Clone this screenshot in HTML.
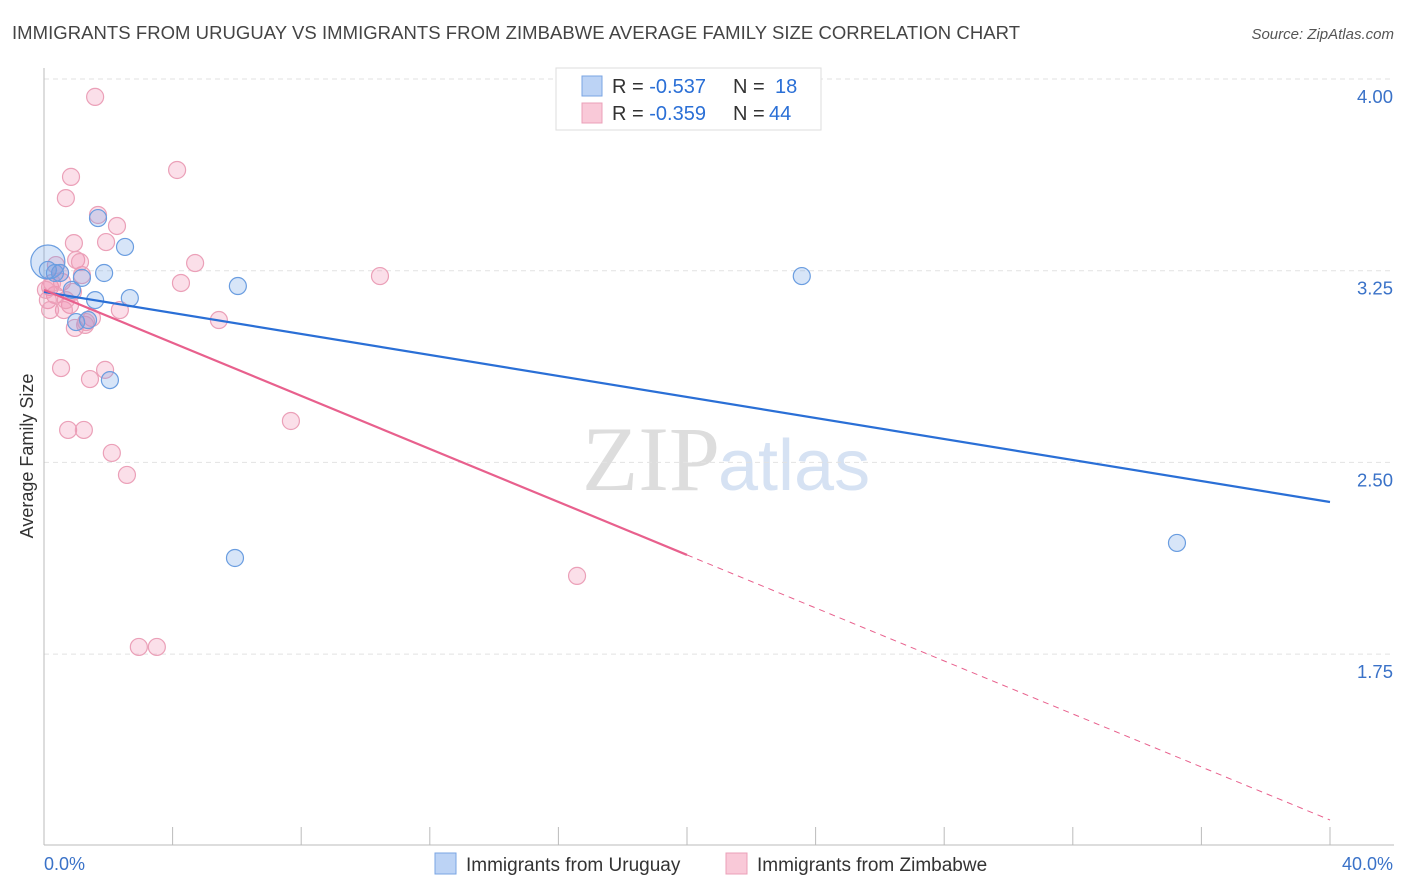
<!DOCTYPE html>
<html><head><meta charset="utf-8"><style>
body{margin:0;background:#fff;font-family:"Liberation Sans",sans-serif}
svg{display:block}
</style></head><body>
<svg width="1406" height="892" xmlns="http://www.w3.org/2000/svg">
<text x="12" y="39" font-size="18.5" fill="#444" textLength="1008">IMMIGRANTS FROM URUGUAY VS IMMIGRANTS FROM ZIMBABWE AVERAGE FAMILY SIZE CORRELATION CHART</text>
<text x="1394" y="39" font-size="15" fill="#555" font-style="italic" text-anchor="end">Source: ZipAtlas.com</text>
<text x="720" y="490" font-size="92" fill="#ddd" font-family="Liberation Serif,serif" text-anchor="end">ZIP</text>
<text x="718" y="490" font-size="72" fill="#d6e2f3">atlas</text>
<g id="grid"></g>
<line x1="44" y1="68" x2="44" y2="845" stroke="#bbb"/>
<line x1="44" y1="845" x2="1394" y2="845" stroke="#bbb"/>
<g id="xticks"></g>
<text x="33" y="456" font-size="18" fill="#333" text-anchor="middle" transform="rotate(-90 33 456)">Average Family Size</text>
<text x="44" y="870" font-size="18" fill="#3a72c8">0.0%</text>
<text x="1393" y="870" font-size="18" fill="#3a72c8" text-anchor="end">40.0%</text>
<g id="pts"></g>
<g id="lines"></g>
<g>
<rect x="556" y="68" width="265" height="62" fill="#fff" stroke="#ddd"/>
<rect x="582" y="76" width="20" height="20" fill="#bcd3f5" stroke="#7aa5e3"/>
<rect x="582" y="103" width="20" height="20" fill="#f9c9d8" stroke="#eba0b8"/>
<text x="612" y="93" font-size="20" fill="#333">R = <tspan fill="#2a6fd6">-0.537</tspan><tspan x="733">N = </tspan><tspan fill="#2a6fd6" x="775">18</tspan></text>
<text x="612" y="120" font-size="20" fill="#333">R = <tspan fill="#2a6fd6">-0.359</tspan><tspan x="733">N = </tspan><tspan fill="#2a6fd6" x="769">44</tspan></text>
</g>
<g>
<rect x="435" y="853" width="21" height="21" fill="#bcd3f5" stroke="#7aa5e3"/>
<text x="466" y="871" font-size="19" fill="#333">Immigrants from Uruguay</text></g>
<g>
<rect x="726" y="853" width="21" height="21" fill="#f9c9d8" stroke="#eba0b8"/>
<text x="757" y="871" font-size="19" fill="#333">Immigrants from Zimbabwe</text></g>
<g id="ylabels"></g>
</svg>
<script>
const yTicks=[4.00,3.25,2.50,1.75];
const xTickVals=[0,4,8,12,16,20,24,28,32,36,40];
const blueX=[0.12,0.34,0.50,1.68,2.52,1.87,1.18,0.87,1.59,2.67,6.03,1.00,1.37,2.05,5.94,23.57,35.24,0.12];
const blueY=[3.284,3.241,3.241,3.456,3.343,3.241,3.222,3.175,3.135,3.143,3.190,3.049,3.057,2.822,2.126,3.229,2.185,3.253];
const pinkX=[1.59,4.14,0.84,0.68,1.68,2.27,0.93,1.93,4.70,1.00,1.18,4.26,10.45,0.19,0.34,0.12,0.56,0.81,0.90,0.62,0.50,2.36,5.44,1.49,1.28,0.96,0.53,1.43,1.90,7.68,0.75,1.24,2.11,2.58,16.58,2.95,3.51,0.25,0.37,1.12,0.68,1.31,0.19,0.06];
const pinkY=[3.930,3.644,3.617,3.534,3.468,3.425,3.358,3.362,3.280,3.292,3.233,3.202,3.229,3.186,3.155,3.135,3.206,3.116,3.167,3.096,3.241,3.096,3.057,3.065,3.038,3.026,2.869,2.826,2.862,2.662,2.627,2.627,2.537,2.451,2.056,1.778,1.778,3.202,3.272,3.284,3.135,3.049,3.096,3.175];
const blueTrend=[3.167,2.345];
const pinkTrend=[3.175,1.101];
const NS="http://www.w3.org/2000/svg";
const X=v=>44+v/40*1286;
const Y=v=>79+(4-v)/0.75*191.7;
function mk(t,a,p){const e=document.createElementNS(NS,t);for(const k in a)e.setAttribute(k,a[k]);p.appendChild(e);return e;}
const grid=document.getElementById('grid'),yl=document.getElementById('ylabels');
yTicks.forEach(v=>{
 const l=mk('line',{x1:44,x2:1394,y1:Y(v),y2:Y(v),stroke:'#e2e2e2','stroke-dasharray':'5,4'},grid);
 
 
 const t=mk('text',{x:1393,y:Y(v)+24,'font-size':18.5,fill:'#3a72c8','text-anchor':'end'},yl);
 t.textContent=v.toFixed(2);
 
 
});
const xt=document.getElementById('xticks');
xTickVals.forEach(v=>{
 const l=mk('line',{x1:X(v),x2:X(v),y1:827,y2:845,stroke:'#bbb'},xt);
 
 
});
const pts=document.getElementById('pts');
pinkX.forEach((x,i)=>{
 const c=mk('circle',{cx:X(x),cy:Y(pinkY[i]),r:8.5,fill:'rgba(240,140,175,0.28)',stroke:'#eba0b8','stroke-width':1.2},pts);
 
 
});
blueX.forEach((x,i)=>{
 const c=mk('circle',{cx:X(x),cy:Y(blueY[i]),r:i==0?17:8.5,fill:'rgba(110,160,230,0.28)',stroke:'#6a9de0','stroke-width':1.2},pts);
 
 
});
const ln=document.getElementById('lines');
const b=mk('line',{x1:X(0),y1:Y(blueTrend[0]),x2:X(40),y2:Y(blueTrend[1]),stroke:'#2a6fd6','stroke-width':2.2},ln);


const pm=pinkTrend[0]+(pinkTrend[1]-pinkTrend[0])*0.5;
const p1=mk('line',{x1:X(0),y1:Y(pinkTrend[0]),x2:X(20),y2:Y(pm),stroke:'#e8608d','stroke-width':2.2},ln);


const p2=mk('line',{x1:X(20),y1:Y(pm),x2:X(40),y2:Y(pinkTrend[1]),stroke:'#e8608d','stroke-width':1,'stroke-dasharray':'6,5'},ln);


</script>
</body></html>
